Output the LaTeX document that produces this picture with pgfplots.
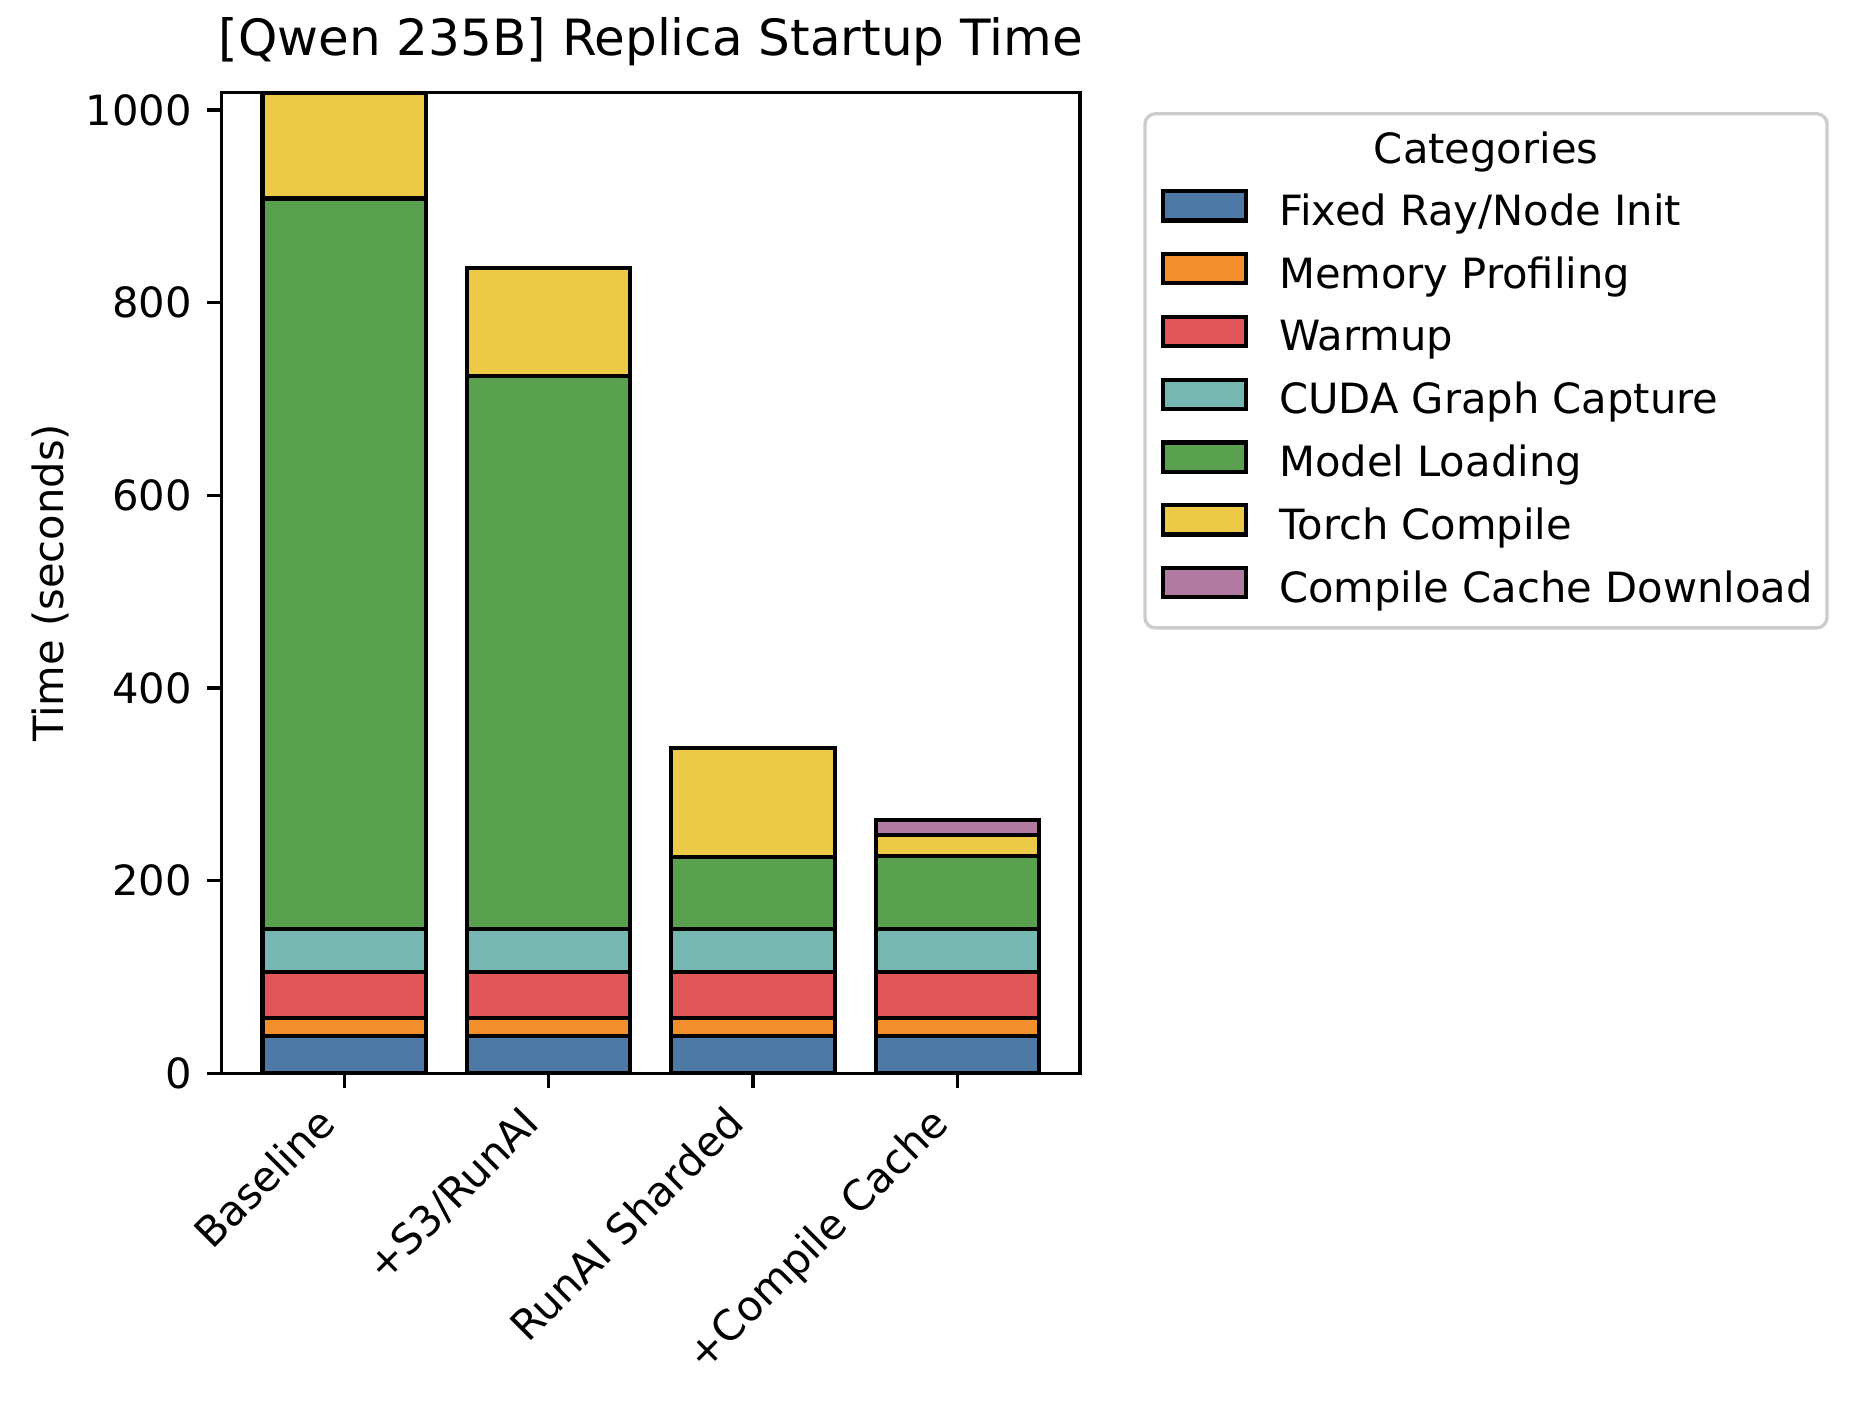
\documentclass[border=0pt]{standalone}
\usepackage{fontspec}
\setmainfont{DejaVu Sans}
\usepackage{pgfplots}
\pgfplotsset{compat=1.18}
\definecolor{cFixed}{HTML}{4E79A7}
\definecolor{cMem}{HTML}{F28E2B}
\definecolor{cWarm}{HTML}{E15759}
\definecolor{cCuda}{HTML}{76B7B2}
\definecolor{cModel}{HTML}{59A14F}
\definecolor{cTorch}{HTML}{EDC948}
\definecolor{cCache}{HTML}{B07AA1}
\begin{document}
\begin{tikzpicture}
\useasboundingbox (-53.2pt,-80.3pt) rectangle (392.5pt,257.6pt);
\draw[draw=black!20, line width=0.8pt, fill=white, rounded corners=2.5pt] (221.6pt,106.9pt) rectangle (385.3pt,230.3pt);
\node[anchor=mid, font=\fontsize{10}{12}\selectfont, inner sep=0pt] at (303.5pt,221.0pt) {Categories};
\begin{axis}[
  at={(0pt,0pt)}, anchor=south west,
  scale only axis, width=206pt, height=235.4pt,
  ybar stacked, bar width=0.8,
  xmin=-0.6, xmax=3.6, ymin=0, ymax=1018,
  xtick={0,1,2,3},
  xticklabels={Baseline,+S3/RunAI,RunAI Sharded,+Compile Cache},
  ytick={0,200,400,600,800,1000},
  tick align=outside, major tick length=3.5pt,
  xtick pos=bottom, ytick pos=left,
  tick style={black, line width=0.8pt},
  axis line style={black, line width=0.8pt},
  axis on top,
  font=\fontsize{10}{12}\selectfont,
  /pgf/number format/assume math mode=true,
  /pgf/number format/1000 sep={},
  yticklabel style={inner sep=0pt},
  yticklabel shift=3.5pt,
  xticklabel style={inner sep=0pt, text height=7.6pt, text depth=2.4pt, xshift=-7.07pt, rotate=45, anchor=north east},
  xticklabel shift=3.5pt,
  ylabel={Time (seconds)},
  ylabel style={at={(axis description cs:-0.1995,0.5)}, anchor=center, inner sep=0pt},
  title={[Qwen 235B] Replica Startup Time},
  title style={font=\fontsize{12}{14.4}\selectfont, inner sep=0pt, anchor=base, at={(axis description cs:0.5,1)}, yshift=2.8pt},
  legend style={at={(axis description cs:1.0942,0.9049)}, anchor=north west, draw=none, fill=none, inner sep=0pt, outer sep=0pt, row sep=0pt, column sep=7.4pt, font=\fontsize{10}{12}\selectfont, nodes={inner sep=0pt, text height=9.5pt, text depth=5.57pt}},
  legend cell align=left,
  legend image code/.code={\draw[#1, line width=1pt] (0pt,-0.8pt) rectangle (20pt,6.2pt);},
]
\addplot[fill=cFixed, draw=black, line width=1pt] coordinates {(0,38.5) (1,38.5) (2,38.5) (3,38.5)};
\addlegendentry{Fixed Ray/Node Init}
\addplot[fill=cMem, draw=black, line width=1pt] coordinates {(0,19) (1,19) (2,19) (3,19)};
\addlegendentry{Memory Profiling}
\addplot[fill=cWarm, draw=black, line width=1pt] coordinates {(0,47.5) (1,47.5) (2,47.5) (3,47.5)};
\addlegendentry{Warmup}
\addplot[fill=cCuda, draw=black, line width=1pt] coordinates {(0,44.5) (1,44.5) (2,44.5) (3,44.5)};
\addlegendentry{CUDA Graph Capture}
\addplot[fill=cModel, draw=black, line width=1pt] coordinates {(0,758.5) (1,574) (2,75.3) (3,76)};
\addlegendentry{Model Loading}
\addplot[fill=cTorch, draw=black, line width=1pt] coordinates {(0,110) (1,112) (2,113) (3,22)};
\addlegendentry{Torch Compile}
\addplot[fill=cCache, draw=black, line width=1pt] coordinates {(0,0) (1,0) (2,0) (3,15.5)};
\addlegendentry{Compile Cache Download}
\end{axis}
\end{tikzpicture}
\end{document}
